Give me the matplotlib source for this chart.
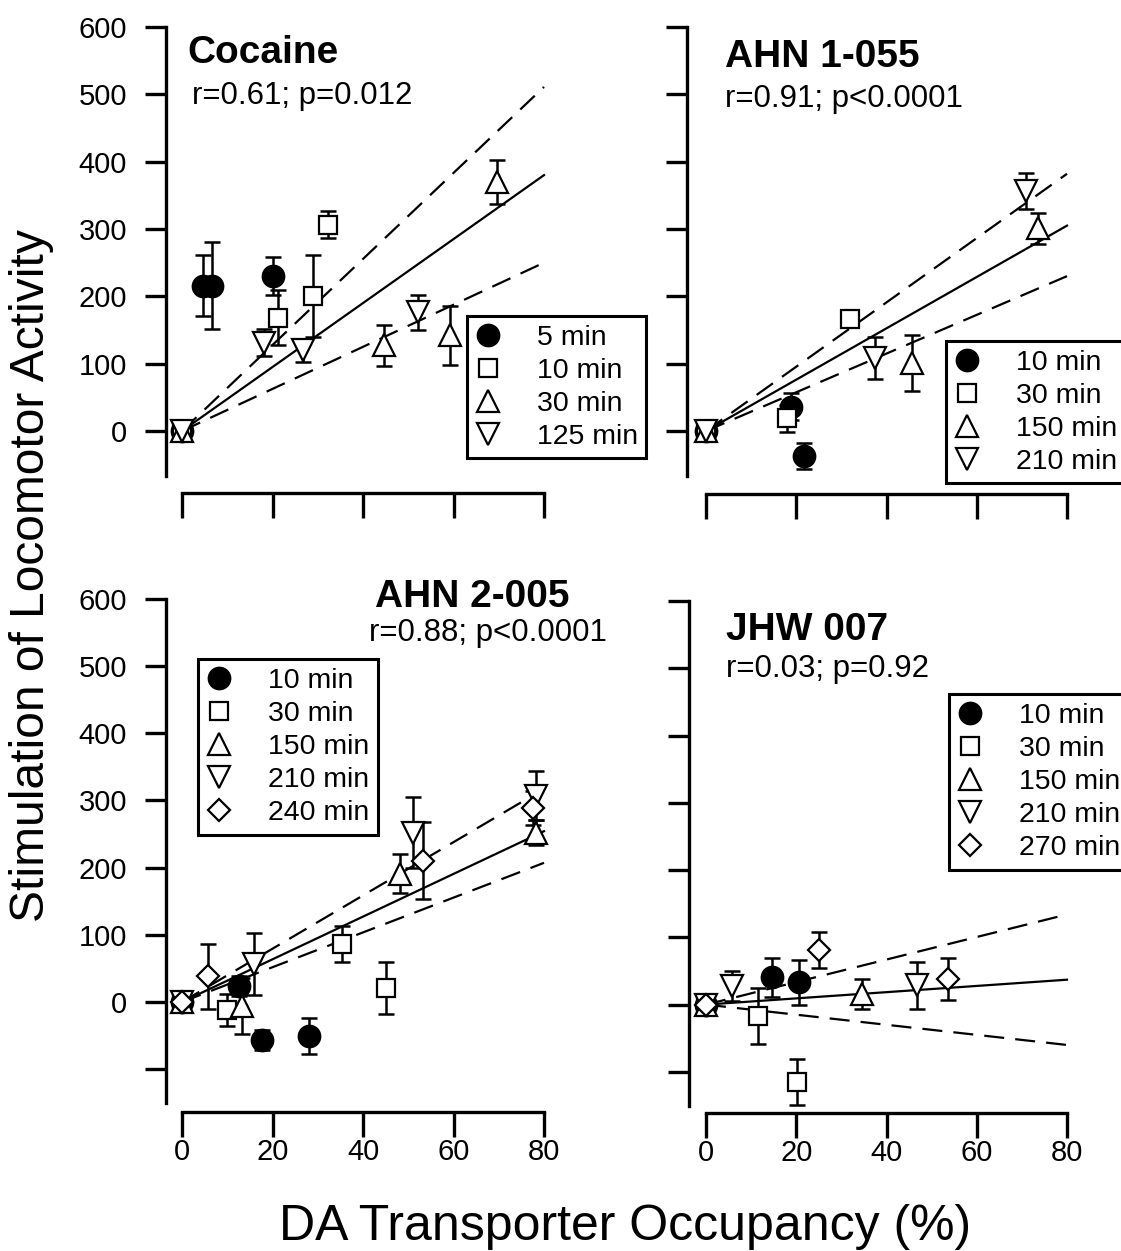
import matplotlib
matplotlib.use("Agg")
import matplotlib.pyplot as plt
from matplotlib.lines import Line2D

plt.rcParams["font.family"] = ["Liberation Sans", "DejaVu Sans"]

W, H = 1121, 1251

# ---------------------------------------------------------------------------
# data: x = DAT occupancy (%), y = locomotor stimulation, e = SEM
# ---------------------------------------------------------------------------
FIT_X = [0, 80]

# Cocaine
COC_5_X = [0, 4.7, 6.6, 20.0]
COC_5_Y = [0, 216, 216, 230]
COC_5_E = [0, 45, 65, 28]
COC_10_X = [0, 21.3, 28.9, 32.2]
COC_10_Y = [0, 168, 200, 306]
COC_10_E = [0, 41, 61, 20]
COC_30_X = [0, 44.6, 59.2, 69.7]
COC_30_Y = [0, 127, 142, 370]
COC_30_E = [0, 30, 44, 33]
COC_125_X = [0, 18.2, 26.8, 52.1]
COC_125_Y = [0, 131, 120, 176]
COC_125_E = [0, 20, 17, 26]
COC_FIT = [0, 380]
COC_UPPER = [0, 511]
COC_LOWER = [0, 250]

# AHN 1-055
A1_10_X = [0, 18.8, 21.8]
A1_10_Y = [0, 36, -37]
A1_10_E = [0, 20, 19]
A1_30_X = [0, 17.9, 31.9]
A1_30_Y = [0, 19, 166]
A1_30_E = [0, 20, 5]
A1_150_X = [0, 45.7, 73.6]
A1_150_Y = [0, 101, 301]
A1_150_E = [0, 41, 23]
A1_210_X = [0, 37.5, 70.9]
A1_210_Y = [0, 108, 356]
A1_210_E = [0, 31, 27]
A1_FIT = [0, 305]
A1_UPPER = [0, 382]
A1_LOWER = [0, 230]

# AHN 2-005
A2_10_X = [0, 12.6, 17.6, 28.1]
A2_10_Y = [0, 24, -56, -51]
A2_10_E = [0, 15, 15, 27]
A2_30_X = [0, 10.0, 35.4, 45.0]
A2_30_Y = [0, -12, 86, 21]
A2_30_E = [0, 24, 27, 39]
A2_150_X = [0, 13.2, 48.2, 78.2]
A2_150_Y = [0, -6, 191, 252]
A2_150_E = [0, 42, 29, 19]
A2_210_X = [0, 16.0, 51.0, 78.2]
A2_210_Y = [0, 56, 252, 307]
A2_210_E = [0, 46, 53, 37]
A2_240_X = [0, 5.8, 53.2, 77.6]
A2_240_Y = [0, 38, 210, 289]
A2_240_E = [0, 48, 57, 25]
A2_FIT = [0, 254]
A2_UPPER = [0, 317]
A2_LOWER = [0, 207]

# JHW 007
J_10_X = [0, 14.7, 20.5]
J_10_Y = [0, 41, 33]
J_10_E = [0, 29, 33]
J_30_X = [0, 11.5, 20.1]
J_30_Y = [0, -17, -115]
J_30_E = [0, 42, 34]
J_150_X = [0, 34.6]
J_150_Y = [0, 16]
J_150_E = [0, 22]
J_210_X = [0, 5.7, 46.7]
J_210_Y = [0, 28, 29]
J_210_E = [0, 22, 35]
J_270_X = [0, 25.1, 53.7]
J_270_Y = [0, 81, 38]
J_270_E = [0, 27, 31]
J_FIT = [0, 37]
J_UPPER = [0, 134]
J_LOWER = [0, -60]

# marker styles per symbol: (marker, facecolor, size)
SYM = {
    "circle": ("o", "black", 15.5),
    "square": ("s", "white", 13),
    "up": ("^", "white", 15.5),
    "down": ("v", "white", 15.5),
    "diamond": ("D", "white", 11.5),
}

LW = 2.4


def make_axes(fig, spine_x, x0, x80, y0, y600, axis_y, top, right, ylow):
    """Place an axes from pixel positions of its spines and ticks."""
    sx = (x80 - x0) / 80.0
    sy = (y0 - y600) / 600.0
    ax = fig.add_axes([spine_x / W, 1 - axis_y / H,
                       (right - spine_x) / W, (axis_y - top) / H])
    ax.set_xlim((spine_x - x0) / sx, (right - x0) / sx)
    ax.set_ylim(-(axis_y - y0) / sy, (y0 - top) / sy)
    ax.patch.set_alpha(0)
    for s in ("top", "right"):
        ax.spines[s].set_visible(False)
    ax.spines["left"].set_linewidth(LW)
    ax.spines["bottom"].set_linewidth(LW)
    ax.spines["left"].set_bounds(ylow, 600)
    ax.spines["bottom"].set_bounds(0, 80)
    ax.spines["left"].set_capstyle("projecting")
    ax.spines["bottom"].set_capstyle("projecting")
    ax.set_xticks([0, 20, 40, 60, 80])
    yt = list(range(0, 601, 100)) if ylow > -100 else list(range(-100, 601, 100))
    ax.set_yticks(yt)
    ax.tick_params(axis="y", direction="out", length=15, width=LW,
                   labelsize=21, pad=13)
    ax.tick_params(axis="x", direction="out", length=18, width=LW,
                   labelsize=21, pad=1)
    return ax


def draw_series(ax, xs, ys, es, sym):
    m, fc, ms = SYM[sym]
    ax.errorbar(xs, ys, yerr=es, fmt="none", ecolor="black",
                elinewidth=1.8, capsize=6, capthick=1.8, zorder=3,
                clip_on=False)
    ax.plot(xs, ys, linestyle="none", marker=m, markersize=ms,
            markerfacecolor=fc, markeredgecolor="black", markeredgewidth=1.6,
            zorder=4, clip_on=False)


def draw_fit(ax, fit, upper, lower):
    ax.plot(FIT_X, fit, color="black", lw=1.6, zorder=2)
    for band in (upper, lower):
        ax.plot(FIT_X, band, color="black", lw=1.6,
                linestyle=(0, (9, 5)), zorder=2)


def add_legend(ax, fig, labels, syms, left, top):
    handles = []
    for s in syms:
        m, fc, ms = SYM[s]
        handles.append(Line2D([], [], linestyle="none", marker=m,
                              markersize=ms, markerfacecolor=fc,
                              markeredgecolor="black", markeredgewidth=1.6))
    leg = ax.legend(handles, labels, loc="upper left",
                    bbox_to_anchor=(left / W, 1 - top / H),
                    bbox_transform=fig.transFigure, borderaxespad=0,
                    fontsize=20.5, frameon=True, fancybox=False,
                    edgecolor="black", framealpha=1, borderpad=0.3,
                    labelspacing=0.25, handlelength=0.9,
                    handletextpad=1.25)
    leg.get_frame().set_linewidth(2.2)
    return leg


def label(fig, x, y, text, **kw):
    fig.text(x / W, 1 - y / H, text, va="baseline", ha="left", **kw)


fig = plt.figure(figsize=(W / 100, H / 100), dpi=100)

# --- Cocaine -------------------------------------------------------------
ax1 = make_axes(fig, 166, 182, 544, 431, 27, 493, 20, 560, -67)
ax1.set_xticklabels([])
draw_fit(ax1, COC_FIT, COC_UPPER, COC_LOWER)
draw_series(ax1, COC_5_X, COC_5_Y, COC_5_E, "circle")
draw_series(ax1, COC_10_X, COC_10_Y, COC_10_E, "square")
draw_series(ax1, COC_30_X, COC_30_Y, COC_30_E, "up")
draw_series(ax1, COC_125_X, COC_125_Y, COC_125_E, "down")
add_legend(ax1, fig, ["5 min", "10 min", "30 min", "125 min"],
           ["circle", "square", "up", "down"], 467, 316)
label(fig, 187, 63, "Cocaine", fontsize=28, fontweight="bold")
label(fig, 192, 104, "r=0.61; p=0.012", fontsize=22.5)

# --- AHN 1-055 -----------------------------------------------------------
ax2 = make_axes(fig, 687, 706, 1067, 431, 27, 494, 20, 1080, -67)
ax2.set_xticklabels([])
ax2.set_yticklabels([])
draw_fit(ax2, A1_FIT, A1_UPPER, A1_LOWER)
draw_series(ax2, A1_10_X, A1_10_Y, A1_10_E, "circle")
draw_series(ax2, A1_30_X, A1_30_Y, A1_30_E, "square")
draw_series(ax2, A1_150_X, A1_150_Y, A1_150_E, "up")
draw_series(ax2, A1_210_X, A1_210_Y, A1_210_E, "down")
add_legend(ax2, fig, ["10 min", "30 min", "150 min", "210 min"],
           ["circle", "square", "up", "down"], 946, 341)
label(fig, 725, 67, "AHN 1-055", fontsize=28, fontweight="bold")
label(fig, 725, 107, "r=0.91; p<0.0001", fontsize=22.5)

# --- AHN 2-005 -----------------------------------------------------------
ax3 = make_axes(fig, 166, 182, 544, 1002, 598.6, 1112, 590, 560, -150)
ax3.set_yticklabels(["", "0", "100", "200", "300", "400", "500", "600"])
draw_fit(ax3, A2_FIT, A2_UPPER, A2_LOWER)
draw_series(ax3, A2_10_X, A2_10_Y, A2_10_E, "circle")
draw_series(ax3, A2_30_X, A2_30_Y, A2_30_E, "square")
draw_series(ax3, A2_150_X, A2_150_Y, A2_150_E, "up")
draw_series(ax3, A2_210_X, A2_210_Y, A2_210_E, "down")
draw_series(ax3, A2_240_X, A2_240_Y, A2_240_E, "diamond")
add_legend(ax3, fig, ["10 min", "30 min", "150 min", "210 min", "240 min"],
           ["circle", "square", "up", "down", "diamond"], 198, 659)
label(fig, 375, 607, "AHN 2-005", fontsize=28, fontweight="bold")
label(fig, 369, 641, "r=0.88; p<0.0001", fontsize=22.5)

# --- JHW 007 -------------------------------------------------------------
ax4 = make_axes(fig, 689, 706, 1067, 1004.6, 601, 1113, 590, 1080, -150)
ax4.set_yticklabels([])
draw_fit(ax4, J_FIT, J_UPPER, J_LOWER)
draw_series(ax4, J_10_X, J_10_Y, J_10_E, "circle")
draw_series(ax4, J_30_X, J_30_Y, J_30_E, "square")
draw_series(ax4, J_150_X, J_150_Y, J_150_E, "up")
draw_series(ax4, J_210_X, J_210_Y, J_210_E, "down")
draw_series(ax4, J_270_X, J_270_Y, J_270_E, "diamond")
add_legend(ax4, fig, ["10 min", "30 min", "150 min", "210 min", "270 min"],
           ["circle", "square", "up", "down", "diamond"], 949, 694)
label(fig, 726, 640, "JHW 007", fontsize=28, fontweight="bold")
label(fig, 726, 677, "r=0.03; p=0.92", fontsize=22.5)

# shared axis titles
fig.text(32 / W, 1 - 576 / H, "Stimulation of Locomotor Activity",
         rotation=90, ha="center", va="center", fontsize=34.5)
fig.text(625 / W, 1 - 1240 / H, "DA Transporter Occupancy (%)",
         ha="center", va="baseline", fontsize=36)

fig.savefig("out.png", dpi=100)
